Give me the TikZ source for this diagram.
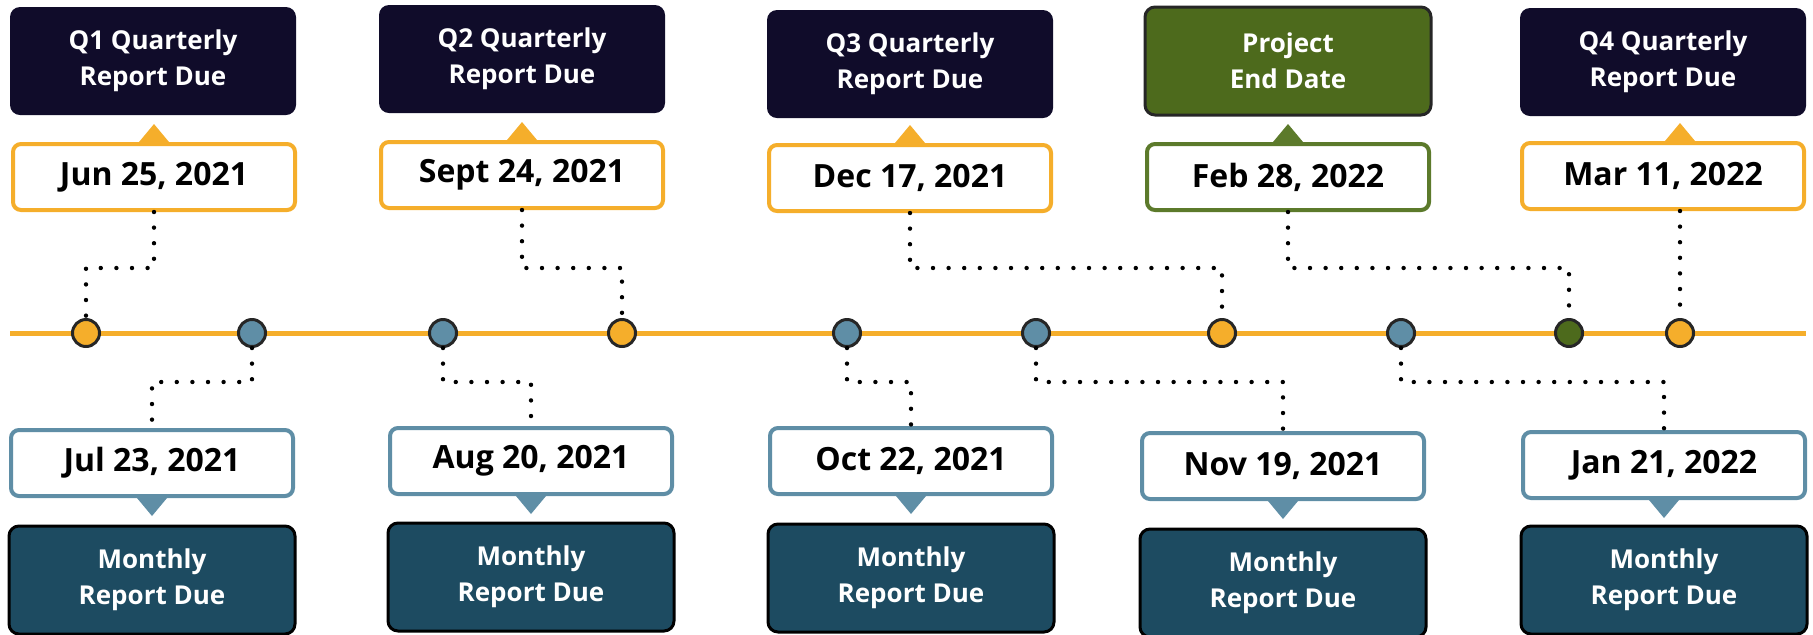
\documentclass[tikz,border=0pt]{standalone}
\usepackage{fontspec}
\setmainfont{Open Sans}
\usetikzlibrary{positioning}

\definecolor{navy}{HTML}{100C2A}
\definecolor{gold}{HTML}{F5AE2B}
\definecolor{steel}{HTML}{5F8EA6}
\definecolor{monthblue}{HTML}{1D4B61}
\definecolor{endgreen}{HTML}{4D6A1C}
\definecolor{endline}{HTML}{5C7A2B}

\tikzset{head/.style = {rounded corners=5pt, minimum width=143pt,
                        minimum height=54pt, align=center, text=white,
                        font=\fontsize{13}{18}\selectfont\bfseries}}
\tikzset{quarter/.style = {head, fill=navy}}
\tikzset{monthly/.style = {head, fill=monthblue, draw=black, line width=1.5pt}}
\tikzset{finish/.style = {head, fill=endgreen, draw=black!85, line width=1.5pt}}
\tikzset{datebox/.style = {rounded corners=4pt, fill=white, draw=#1,
                           line width=2pt, minimum width=141pt,
                           minimum height=33pt,
                           font=\fontsize{16}{18}\selectfont\bfseries}}
\tikzset{dotnode/.style = {circle, draw=black!85, line width=1.5pt, fill=#1,
                           inner sep=0pt, minimum size=13.5pt}}
\tikzset{leader/.style = {line width=2.2pt, line cap=round,
                          dash pattern=on 0pt off 7.8pt}}

\begin{document}
\begin{tikzpicture}[x=0.5pt, y=-0.5pt]
  \useasboundingbox (0,0) rectangle (1813,634);

  % the time axis
  \draw[gold, line width=2.5pt] (10,333) -- (1806,333);
  \foreach \n/\x/\c in {1/86/gold, 2/252/steel, 3/443/steel, 4/622/gold,
                        5/847/steel, 6/1036/steel, 7/1222/gold,
                        8/1401/steel, 9/1569/endgreen, 10/1680/gold}
    \node[dotnode=\c] (d\n) at (\x,333) {};

  % quarterly milestones above the axis
  \node[quarter] (q1) at (153,61) {Q1 Quarterly\\Report Due};
  \node[datebox=gold] (jun) at (154,177) {Jun 25, 2021};
  \node[quarter] (q2) at (522,59) {Q2 Quarterly\\Report Due};
  \node[datebox=gold] (sep) at (522,175) {Sept 24, 2021};
  \node[quarter] (q3) at (910,64) {Q3 Quarterly\\Report Due};
  \node[datebox=gold] (dec) at (910,178) {Dec 17, 2021};
  \node[finish] (proj) at (1288,61) {Project\\End Date};
  \node[datebox=endline] (feb) at (1288,177) {Feb 28, 2022};
  \node[quarter] (q4) at (1663,62) {Q4 Quarterly\\Report Due};
  \node[datebox=gold] (mar) at (1663,176) {Mar 11, 2022};

  % monthly milestones below the axis
  \node[datebox=steel] (jul) at (152,463) {Jul 23, 2021};
  \node[monthly] (m1) at (152,580) {Monthly\\Report Due};
  \node[datebox=steel] (aug) at (531,461) {Aug 20, 2021};
  \node[monthly] (m2) at (531,577) {Monthly\\Report Due};
  \node[datebox=steel] (oct) at (911,461) {Oct 22, 2021};
  \node[monthly] (m3) at (911,578) {Monthly\\Report Due};
  \node[datebox=steel] (nov) at (1283,466) {Nov 19, 2021};
  \node[monthly] (m4) at (1283,583) {Monthly\\Report Due};
  \node[datebox=steel] (jan) at (1664,465) {Jan 21, 2022};
  \node[monthly] (m5) at (1664,580) {Monthly\\Report Due};

  % little pointers on the date boxes
  \foreach \b/\c in {jun/gold, sep/gold, dec/gold, feb/endline}
    \fill[\c] ([xshift=-7.5pt]\b.north) -- ([xshift=7.5pt]\b.north)
      -- ([yshift=9pt]\b.north) -- cycle;
  \fill[gold] ([xshift=-7.5pt]mar.north -| d10) -- ([xshift=7.5pt]mar.north -| d10)
    -- ([yshift=9pt]mar.north -| d10) -- cycle;
  \foreach \b in {jul, aug, oct, nov, jan}
    \fill[steel] ([xshift=-7.5pt]\b.south) -- ([xshift=7.5pt]\b.south)
      -- ([yshift=-9pt]\b.south) -- cycle;

  % dotted leaders from dates to the axis
  \draw[leader] (jun.south) -- (jun.south |- 0,268) -| (d1.north);
  \draw[leader] (sep.south) -- (sep.south |- 0,268) -| (d4.north);
  \draw[leader] (dec.south) -- (dec.south |- 0,268) -| (d7.north);
  \draw[leader] (feb.south) -- (feb.south |- 0,268) -| (d9.north);
  \draw[leader] (mar.south -| d10) -- (d10.north);
  \draw[leader] (d2.south) -- (d2.south |- 0,382) -| (jul.north);
  \draw[leader] (d3.south) -- (d3.south |- 0,382) -| (aug.north);
  \draw[leader] (d5.south) -- (d5.south |- 0,382) -| (oct.north);
  \draw[leader] (d6.south) -- (d6.south |- 0,382) -| (nov.north);
  \draw[leader] (d8.south) -- (d8.south |- 0,382) -| (jan.north);
\end{tikzpicture}
\end{document}
